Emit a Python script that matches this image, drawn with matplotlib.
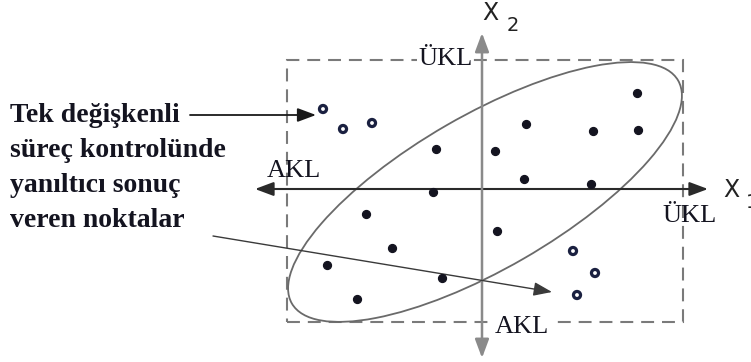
import matplotlib.pyplot as plt
from matplotlib.patches import Ellipse, Rectangle

# in-control observations (X1, X2)
dots_x1 = [155, 44, 111, 156, -46, 13, 42, 109, -49, -116, 15, -90, -155, -40, -125]
dots_x2 = [96, 65, 58, 59, 40, 38, 10, 5, -3, -25, -42, -59, -76, -89, -110]

# points that look fine on each univariate chart but fall outside the ellipse
odd_x1 = [-159, -139, -110, 91, 113, 95]
odd_x2 = [80, 60, 66, -62, -84, -106]

# univariate control limits
akl_1, ukl_1 = -195, 201
akl_2, ukl_2 = -133, 129

# joint control ellipse
ell_center = (3, -3)
ell_width, ell_height, ell_angle = 446, 154, 30

note_lines = ["Tek değişkenli", "süreç kontrolünde", "yanıltıcı sonuç", "veren noktalar"]

ink = "#141420"
serif = "Liberation Serif"

fig = plt.figure(figsize=(7.51, 3.62), dpi=100)
ax = fig.add_axes([0, 0, 1, 1])
ax.set_xlim(-482, 269)
ax.set_ylim(-173, 189)
ax.set_aspect("equal")
ax.axis("off")

# dashed box from the two univariate charts
ax.add_patch(Rectangle((akl_1, akl_2), ukl_1 - akl_1, ukl_2 - akl_2, fill=False,
                       ec="#7a7a7a", lw=1.5, ls=(0, (6.2, 3.8)), zorder=1))

ax.add_patch(Ellipse(ell_center, ell_width, ell_height, angle=ell_angle, fill=False,
                     ec="#6a6a6a", lw=1.3, zorder=2))


def arrow(start, end, style="-|>", color=ink, lw=1.3):
    ax.annotate("", xy=end, xytext=start, zorder=3,
                arrowprops=dict(arrowstyle=f"{style},head_length=0.75,head_width=0.28",
                                mutation_scale=15, color=color, lw=lw,
                                shrinkA=0, shrinkB=0))


# axes of the chart
arrow((-227, 0), (226, 0), style="<|-|>", color="#2a2a2a", lw=1.5)
arrow((0, -169), (0, 156), style="<|-|>", color="#8a8a8a", lw=1.8)

# pointers from the note
arrow((-292, 74), (-166, 74), color="#1a1a1a", lw=1.3)
arrow((-269, -47), (70, -103), color="#3a3a3a", lw=1.0)

ax.scatter(dots_x1, dots_x2, s=32, c=ink, zorder=4)
ax.scatter(odd_x1, odd_x2, s=26, facecolors="none", edgecolors="#1a2040",
           linewidths=2.3, zorder=4)

# limit labels
lab = dict(family=serif, fontsize=19, color=ink, va="baseline", zorder=5)
white = dict(facecolor="white", edgecolor="none", pad=0.5)
ax.text(-64, 124, "ÜKL", ha="left", bbox=white, **lab)
ax.text(13, -144, "AKL", ha="left", bbox=white, **lab)
ax.text(-215, 12, "AKL", ha="left", **lab)
ax.text(180, -33, "ÜKL", ha="left", **lab)

# axis names
ax.text(0, 169, "X", family="DejaVu Sans", fontsize=17, color="#222", va="baseline")
ax.text(25, 158, "2", family="DejaVu Sans", fontsize=14, color="#222", va="baseline")
ax.text(241, -8, "X", family="DejaVu Sans", fontsize=17, color="#222", va="baseline")
ax.text(264, -19, "1", family="DejaVu Sans", fontsize=14, color="#222", va="baseline")

# explanatory note on the left
for i, line in enumerate(note_lines):
    ax.text(-472, 67 - 35 * i, line, family=serif, fontweight="bold", fontsize=20,
            color=ink, ha="left", va="baseline")

fig.savefig("out.png", dpi=100)
